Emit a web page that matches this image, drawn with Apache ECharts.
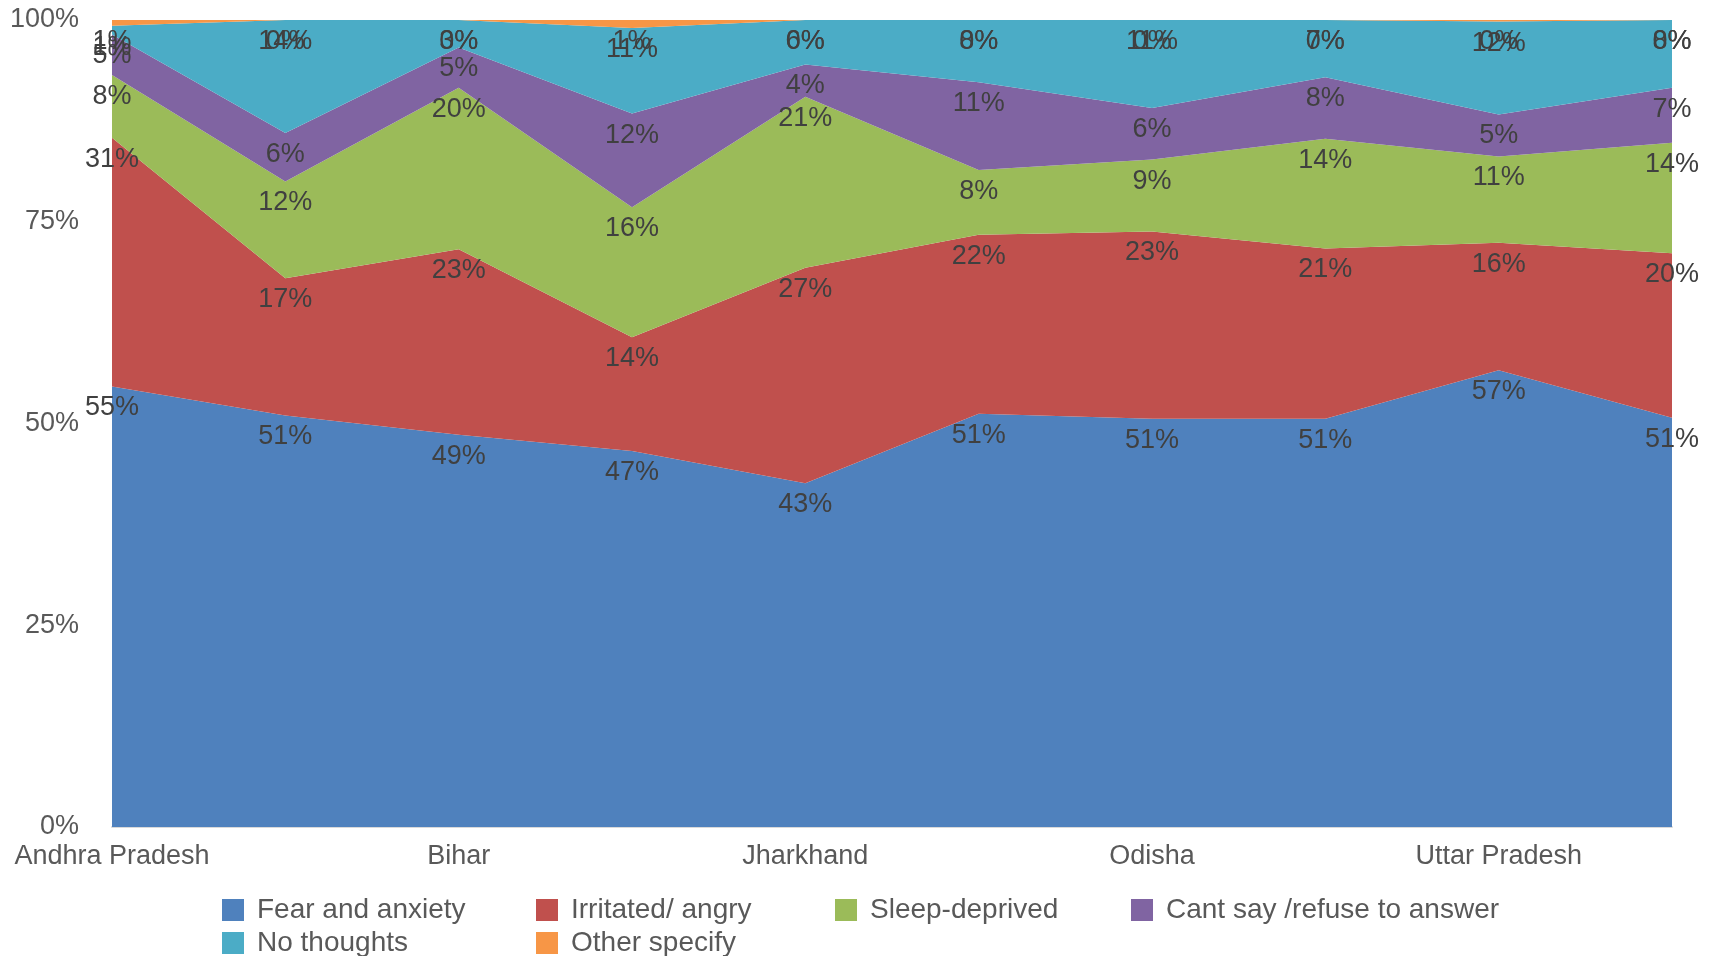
<!DOCTYPE html>
<html>
<head>
<meta charset="utf-8">
<script src="https://cdn.jsdelivr.net/npm/echarts@6/dist/echarts.min.js"></script>
<style>html,body{margin:0;padding:0;background:#fff}#c{width:1719px;height:956px}</style>
</head>
<body>
<div id="c"></div>
<script>
const categories = ["Andhra Pradesh", "Assam", "Bihar", "Chhattisgarh", "Jharkhand", "Madhya Pradesh", "Odisha", "Rajasthan", "Uttar Pradesh", "West Bengal"];
const fearAnxiety  = [54.6, 51.0, 48.6, 46.6, 42.6, 51.2, 50.6, 50.6, 56.6, 50.7];
const irritated    = [30.8, 17.0, 23.0, 14.1, 26.7, 22.2, 23.2, 21.1, 15.8, 20.4];
const sleepDep     = [7.8, 12.0, 20.0, 16.1, 21.2, 8.0, 8.9, 13.6, 10.7, 13.7];
const cantSay      = [5.0, 6.0, 5.0, 11.6, 4.0, 10.9, 6.4, 7.6, 5.2, 6.8];
const noThoughts   = [1.1, 14.0, 3.4, 10.6, 5.5, 7.7, 10.9, 7.1, 11.5, 8.4];
const otherSpecify = [0.7, 0.0, 0.0, 1.0, 0.0, 0.0, 0.0, 0.0, 0.2, 0.0];
const yTicks = [0, 25, 50, 75, 100];

const seriesDefs = [
  {name: "Fear and anxiety", data: fearAnxiety, color: "#4F81BD"},
  {name: "Irritated/ angry", data: irritated, color: "#C0504D"},
  {name: "Sleep-deprived", data: sleepDep, color: "#9BBB59"},
  {name: "Cant say /refuse to answer", data: cantSay, color: "#8064A2"},
  {name: "No thoughts", data: noThoughts, color: "#4BACC6"},
  {name: "Other specify", data: otherSpecify, color: "#F79646"}
];
const FONT = "'Liberation Sans', Arial, sans-serif";

const chart = echarts.init(document.getElementById('c'), null, {renderer: 'canvas'});
const legendPos = [
  [217, 891], [531, 891], [830, 891], [1126, 891],
  [217, 924], [531, 924]
];
const option = {
  animation: false,
  color: seriesDefs.map(s => s.color),
  grid: {left: 112, right: 47, top: 20, bottom: 129, containLabel: false},
  legend: seriesDefs.map((s, i) => ({
    data: [s.name], left: legendPos[i][0], top: legendPos[i][1],
    itemWidth: 22, itemHeight: 22, icon: 'rect',
    textStyle: {fontFamily: FONT, fontSize: 28, color: '#595959', padding: [0, 0, 0, 8]},
    selectedMode: false
  })),
  xAxis: {
    type: 'category', data: categories, boundaryGap: false,
    axisLine: {show: true, lineStyle: {color: '#D9D9D9', width: 2}},
    axisTick: {show: false},
    axisLabel: {interval: 1, margin: 16, fontFamily: FONT, fontSize: 27, color: '#595959'},
    splitLine: {show: false}
  },
  yAxis: {
    type: 'value', min: 0, max: 100, interval: 25,
    axisLine: {show: false}, axisTick: {show: false},
    splitLine: {show: false},
    axisLabel: {margin: 33, padding: [4, 0, 0, 0], fontFamily: FONT, fontSize: 27, color: '#595959',
      formatter: v => yTicks.includes(v) ? v + '%' : ''}
  },
  series: seriesDefs.map(s => ({
    name: s.name, type: 'line', stack: 'total', data: s.data,
    symbol: 'circle', symbolSize: 0, showSymbol: true,
    lineStyle: {width: 0}, itemStyle: {color: s.color},
    areaStyle: {color: s.color, opacity: 1},
    label: {show: true, position: 'bottom', distance: 8, fontFamily: FONT, fontSize: 27, color: '#404040',
      formatter: p => Math.round(p.value) + '%'}
  }))
};
chart.setOption(option);
</script>
</body>
</html>
